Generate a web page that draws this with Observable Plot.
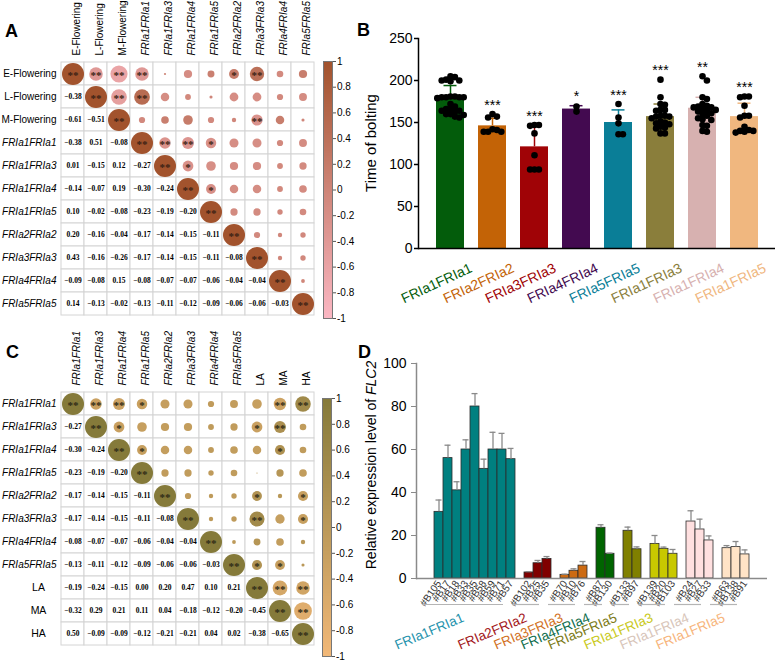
<!DOCTYPE html>
<html><head><meta charset="utf-8">
<script src="https://cdn.jsdelivr.net/npm/d3@7"></script>
<script src="https://cdn.jsdelivr.net/npm/@observablehq/plot@0.6"></script>
<style>
body{margin:0;background:#fff;}
#root{position:relative;width:776px;height:665px;overflow:hidden;background:#fff;font-family:"Liberation Sans",Arial,sans-serif;}
#root svg{position:absolute;overflow:visible;}
</style></head><body><div id="root"></div><script>
const FONT = '"Liberation Sans", Arial, sans-serif';
const SERIF = '"Liberation Serif", "Times New Roman", serif';

// ---------- Panel A data ----------
const aVars = ["E-Flowering","L-Flowering","M-Flowering","FRIa1FRIa1","FRIa1FRIa3","FRIa1FRIa4","FRIa1FRIa5","FRIa2FRIa2","FRIa3FRIa3","FRIa4FRIa4","FRIa5FRIa5"];
const aLower = [
 [],
 [-0.38],
 [-0.61, -0.51],
 [-0.38, 0.51, -0.08],
 [0.01, -0.15, 0.12, -0.27],
 [-0.14, -0.07, 0.19, -0.30, -0.24],
 [0.10, -0.02, -0.08, -0.23, -0.19, -0.20],
 [0.20, -0.16, -0.04, -0.17, -0.14, -0.15, -0.11],
 [0.43, -0.16, -0.26, -0.17, -0.14, -0.15, -0.11, -0.08],
 [-0.09, -0.08, 0.15, -0.08, -0.07, -0.07, -0.06, -0.04, -0.04],
 [0.14, -0.13, -0.02, -0.13, -0.11, -0.12, -0.09, -0.06, -0.06, -0.03]
];
const aSig = [
 ["**","**","**","","","","*","**","",""],
 ["**","**","","","","","","",""],
 ["","","","","","**","",""],
 ["**","**","*","","","",""],
 ["*","","","","",""],
 ["*","","","",""],
 ["","","",""],
 ["","",""],
 ["",""],
 [""],
 []
];
const aRange = ["#fbb7c3", "#a2532d"];

// ---------- Panel C data ----------
const cVars = ["FRIa1FRIa1","FRIa1FRIa3","FRIa1FRIa4","FRIa1FRIa5","FRIa2FRIa2","FRIa3FRIa3","FRIa4FRIa4","FRIa5FRIa5","LA","MA","HA"];
const cLower = [
 [],
 [-0.27],
 [-0.30, -0.24],
 [-0.23, -0.19, -0.20],
 [-0.17, -0.14, -0.15, -0.11],
 [-0.17, -0.14, -0.15, -0.11, -0.08],
 [-0.08, -0.07, -0.07, -0.06, -0.04, -0.04],
 [-0.13, -0.11, -0.12, -0.09, -0.06, -0.06, -0.03],
 [-0.19, -0.24, -0.15, 0.003, 0.20, 0.47, 0.10, 0.21],
 [-0.32, 0.29, 0.21, 0.11, 0.04, -0.18, -0.12, -0.20, -0.45],
 [0.50, -0.09, -0.09, -0.12, -0.21, -0.21, 0.04, 0.02, -0.38, -0.65]
];
const cSig = [
 ["**","**","*","","","","","","**","**"],
 ["*","","","","","","*","**",""],
 ["*","","","","","","*",""],
 ["","","","","","",""],
 ["","","","*","","*"],
 ["","","**","","*"],
 ["","","",""],
 ["*","*",""],
 ["**","**"],
 ["**"],
 []
];
const cRange = ["#f2b878", "#857a3a"];
const cbTicks = [1, 0.8, 0.6, 0.4, 0.2, 0, -0.2, -0.4, -0.6, -0.8, -1];

// ---------- Panel B data ----------
const bGenotypes = ["FRIa1FRIa1","FRIa2FRIa2","FRIa3FRIa3","FRIa4FRIa4","FRIa5FRIa5","FRIa1FRIa3","FRIa1FRIa4","FRIa1FRIa5"];
const bColors = ["#035c0b", "#c36306", "#a00306", "#430a50", "#0a7e97", "#8a7e3b", "#d7b1b0", "#f0b77f"];
const bMeans = [180, 146, 121, 166, 150, 157, 167, 157];
const bErrTops = [194, 155, 147, 170, 165, 172, 180, 173];
const bStars = ["", "***", "***", "*", "***", "***", "**", "***"];
const bPoints = [
 [205, 204, 201, 200, 200, 199, 181, 181, 180, 180, 180, 180, 179, 172, 169, 166, 166, 164, 164, 163, 160, 160, 159, 157, 156],
 [160, 157, 156, 142, 141, 139, 139, 139],
 [147, 147, 146, 137, 111, 94, 94, 94],
 [169, 163],
 [172, 156, 149, 136, 136],
 [201, 180, 172, 171, 165, 165, 164, 158, 158, 157, 157, 155, 151, 150, 149, 148, 145, 144, 143, 137, 137],
 [205, 200, 180, 178, 172, 170, 169, 168, 168, 166, 165, 164, 163, 161, 160, 158, 155, 154, 153, 147, 146, 140, 139],
 [181, 181, 180, 170, 158, 158, 156, 145, 141, 140, 140, 139, 138]
];
const bYTicks = [0, 50, 100, 150, 200, 250];

// ---------- Panel D data ----------
const dGroupNames = ["FRIa1FRIa1","FRIa2FRIa2","FRIa3FRIa3","FRIa4FRIa4","FRIa5FRIa5","FRIa1FRIa3","FRIa1FRIa4","FRIa1FRIa5"];
const dBarFill = ["#008080", "#800000", "#cc6a12", "#006400", "#808000", "#c8c800", "#ffe0e0", "#ffe3c6"];
const dLabelColor = ["#1f93ad", "#a3171b", "#d2721f", "#0f6e4c", "#7c7a16", "#c9c921", "#d8c5b9", "#f7b57c"];
const dLines = [
 ["#B105","#B17","#B18","#B33","#B35","#B58","#B59","#B71","#B57"],
 ["#B102","#B25","#B35"],
 ["#B70","#B10","#B76"],
 ["#B87","#B130"],
 ["#B133","#B97"],
 ["#B139","#B20","#B103"],
 ["#B24","#B27","#B33"],
 ["#B63","#B138","#B91"]
];
const dValues = [
 [31, 56, 41, 60, 80, 51, 60, 60, 55.5],
 [2.8, 7.1, 9.1],
 [1.7, 3.6, 6.0],
 [23.6, 11.5],
 [22.2, 13.6],
 [16.1, 13.8, 11.5],
 [26.5, 22.8, 17.7],
 [14.1, 14.6, 11.2]
];
const dErrTops = [
 [36.5, 62, 45, 64.5, 86, 55.5, 68, 67.5, 60.5],
 [3.2, 8.4, 10.2],
 [2.0, 4.5, 7.9],
 [25, 11.8],
 [23.9, 14.7],
 [20, 14.6, 13.5],
 [31.5, 27.6, 19.8],
 [15.3, 17.2, 13.3]
];
const dYTicks = [0, 20, 40, 60, 80, 100];

// ---------- helpers ----------
const root = document.getElementById("root");
function place(svg, left, top) {
  svg.style.position = "absolute";
  svg.style.left = left + "px";
  svg.style.top = top + "px";
  svg.style.maxWidth = "none";
  root.appendChild(svg);
}
const fmtR = v => (v < 0 ? "\u2212" : "") + Math.abs(v).toFixed(2);

function corrPlot(vars, lower, sig, range, starColor, centeredRows) {
  const cells = [];
  vars.forEach((rv, i) => vars.forEach((cv, j) => {
    if (i === j) cells.push({row: rv, col: cv, v: 1, kind: "dot", star: "**"});
    else if (j < i) cells.push({row: rv, col: cv, v: lower[i][j], kind: "num"});
    else cells.push({row: rv, col: cv, v: lower[j][i], kind: "dot", star: sig[i][j - i - 1]});
  }));
  const isItalic = v => v.startsWith("FRIa");
  return Plot.plot({
    width: 320, height: 330, marginLeft: 59, marginRight: 5, marginTop: 60, marginBottom: 14,
    x: {domain: vars, axis: null, padding: 0},
    y: {domain: vars, axis: null, padding: 0},
    r: {type: "sqrt", domain: [0, 1], range: [0, 11]},
    color: {type: "linear", domain: [-1, 1], range},
    style: {fontFamily: FONT, color: "black", background: "transparent"},
    marks: [
      Plot.cell(cells, {x: "col", y: "row", fill: "white", stroke: "#d4d4d4", strokeWidth: 1, inset: 0}),
      Plot.dot(cells.filter(d => d.kind === "dot"), {x: "col", y: "row", r: d => Math.abs(d.v), fill: "v"}),
      Plot.text(cells.filter(d => d.star), {x: "col", y: "row", text: "star", fill: starColor, fontFamily: SERIF, fontWeight: "bold", fontSize: 11, dy: 1.5}),
      Plot.text(cells.filter(d => d.kind === "num"), {x: "col", y: "row", text: d => fmtR(d.v), fill: "black", fontFamily: SERIF, fontWeight: "bold", fontSize: 7.5}),
      Plot.text(vars.filter(isItalic), {y: d => d, frameAnchor: "left", dx: -3, textAnchor: "end", fontStyle: "italic", fontSize: 10}),
      Plot.text(vars.filter(v => !isItalic(v) && !centeredRows), {y: d => d, frameAnchor: "left", dx: -3, textAnchor: "end", fontSize: 10}),
      Plot.text(vars.filter(v => !isItalic(v) && centeredRows), {y: d => d, frameAnchor: "left", dx: -21, textAnchor: "middle", fontSize: 10.5}),
      Plot.text(vars.filter(isItalic), {x: d => d, frameAnchor: "top", dy: -5, rotate: -90, textAnchor: "start", fontStyle: "italic", fontSize: 10}),
      Plot.text(vars.filter(v => !isItalic(v)), {x: d => d, frameAnchor: "top", dy: -5, rotate: -90, textAnchor: "start", fontSize: 10})
    ]
  });
}

function colorBar(range, height, mTop, mBottom) {
  return Plot.plot({
    width: 40, height, marginLeft: 1, marginRight: 30, marginTop: mTop, marginBottom: mBottom,
    x: {domain: [0, 1], axis: null},
    y: {domain: [-1, 1], axis: null},
    color: {type: "linear", domain: [-1, 1], range},
    style: {fontFamily: FONT, color: "black", background: "transparent"},
    marks: [
      Plot.raster({x1: 0, x2: 1, y1: -1, y2: 1, fill: (x, y) => y, width: 2, height: 200, imageRendering: "auto"}),
      Plot.frame({stroke: "#777", strokeWidth: 1}),
      Plot.axisY({anchor: "right", ticks: cbTicks, tickFormat: d => String(d), tickSize: 3, tickPadding: 1.5, fontSize: 10, stroke: "#555", label: null})
    ]
  });
}

// ---------- Panel A ----------
place(corrPlot(aVars, aLower, aSig, aRange, "#3a1f14", false), 0, 0);
place(colorBar(aRange, 320, 61, 2), 322, 0);

// ---------- Panel C ----------
place(corrPlot(cVars, cLower, cSig, cRange, "#2e2a16", true), 0, 330);
place(colorBar(cRange, 330, 68, 4), 321, 330);

// ---------- Panel B ----------
const B_H = 210, B_YMAX = 250, B_BW = 14;   // frame height, y max, half bar width in x units
// deterministic beeswarm (like Plot's dodge) in pixel-like units within each bar
function swarm(vals) {
  const k = B_H / B_YMAX, step = 4.4, minD = 4.4, placed = [];
  return vals.map(v => {
    const py = v * k;
    let off = 0;
    for (let n = 0; n < 40; n++) {
      const o = n === 0 ? 0 : (n % 2 ? 1 : -1) * Math.ceil(n / 2) * step;
      if (placed.every(p => Math.hypot(p.x - o, p.y - py) >= minD)) { off = o; break; }
    }
    placed.push({x: off, y: py});
    return off;
  });
}
const bRows = bGenotypes.map((g, i) => ({
  g, color: bColors[i], mean: bMeans[i], err: bErrTops[i], star: bStars[i],
  top: Math.max(bErrTops[i], d3.max(bPoints[i]))
}));
const bDots = bGenotypes.flatMap((g, i) => {
  const offs = swarm(bPoints[i]);
  return bPoints[i].map((v, j) => ({g, v, o: offs[j]}));
});
const bPlot = Plot.plot({
  width: 359, height: 320, marginLeft: 1, marginRight: 1, marginTop: 38, marginBottom: 72,
  fx: {domain: bGenotypes, paddingInner: 0.34, paddingOuter: 0.35, axis: null, label: null},
  x: {domain: [-B_BW, B_BW], axis: null},
  y: {domain: [0, B_YMAX], axis: null},
  style: {fontFamily: FONT, color: "black", background: "transparent"},
  marks: [
    Plot.rectY(bRows, {fx: "g", x1: -B_BW, x2: B_BW, y: "mean", fill: "color"}),
    Plot.ruleX(bRows, {fx: "g", x: 0, y1: "mean", y2: "err", stroke: "color", strokeWidth: 1.5}),
    Plot.ruleY(bRows, {fx: "g", x1: -6.5, x2: 6.5, y: "err", stroke: "color", strokeWidth: 1.5}),
    Plot.dot(bDots, {fx: "g", x: "o", y: "v", r: 3.3, fill: "black"}),
    Plot.text(bRows.filter(d => d.star), {fx: "g", x: 0, y: "top", text: "star", dy: -9, fontSize: 14}),
    Plot.text(bRows, {fx: "g", x: 0, frameAnchor: "bottom", text: "g", fill: "color", rotate: -25, dx: -12, dy: 39, fontSize: 14})
  ]
});
place(bPlot, 417, 0);
// axes of panel B (same frame, unfaceted)
const bAxes = Plot.plot({
  width: 421, height: 320, marginLeft: 63, marginRight: 1, marginTop: 38, marginBottom: 72,
  y: {domain: [0, B_YMAX], axis: null},
  style: {fontFamily: FONT, color: "black", background: "transparent"},
  marks: [
    Plot.ruleY([0], {stroke: "black", strokeWidth: 1.5}),
    Plot.frame({anchor: "left", stroke: "black", strokeWidth: 1.5}),
    Plot.axisY({ticks: bYTicks, tickSize: 4, tickPadding: 2, fontSize: 14, strokeWidth: 1.5, label: null})
  ]
});
place(bAxes, 355, 0);

// ---------- Panel D ----------
const dKeys = [], dTickKeys = [], dRows = [], dGroupRows = [];
dGroupNames.forEach((g, gi) => {
  if (gi > 0) dKeys.push("gap" + gi);
  const keys = dLines[gi].map(l => gi + "|" + l);
  keys.forEach((k, i) => {
    dKeys.push(k); dTickKeys.push(k);
    dRows.push({key: k, v: dValues[gi][i], err: dErrTops[gi][i], fill: dBarFill[gi]});
  });
  dGroupRows.push({name: g, first: keys[0], last: keys[keys.length - 1], mid: keys[Math.floor((keys.length - 1) / 2)], color: dLabelColor[gi]});
});
const dPlot = Plot.plot({
  width: 421, height: 330, marginLeft: 61, marginRight: 9, marginTop: 28, marginBottom: 87,
  x: {domain: dKeys, paddingInner: 0, paddingOuter: 1.9, axis: null},
  y: {domain: [0, 100], axis: null},
  style: {fontFamily: FONT, color: "black", background: "transparent"},
  marks: [
    Plot.barY(dRows, {x: "key", y: "v", fill: "fill", stroke: "#2b2b2b", strokeWidth: 0.8}),
    Plot.ruleX(dRows, {x: "key", y1: "v", y2: "err", stroke: "#8a8a8a", strokeWidth: 1.3}),
    Plot.tickY(dRows, {x: "key", y: "err", stroke: "#8a8a8a", strokeWidth: 1.3, insetLeft: 1.5, insetRight: 1.5}),
    Plot.ruleY([0], {stroke: "#8a8a8a", strokeWidth: 1.5}),
    Plot.frame({anchor: "left", stroke: "#8a8a8a", strokeWidth: 1.5}),
    Plot.axisY({ticks: dYTicks, tickSize: 5, tickPadding: 5, fontSize: 14, stroke: "#8a8a8a", fill: "black", label: null}),
    Plot.axisX({ticks: dTickKeys, tickFormat: k => k.split("|")[1], tickRotate: -55, tickSize: 0, tickPadding: 3, fontSize: 10, fill: "#333", label: null}),
    Plot.ruleY(dGroupRows, {y: () => 0, x1: "first", x2: "last", dy: 26, dx: -12, stroke: "#b5b5b5", strokeWidth: 1.2}),
    Plot.text(dGroupRows, {x: "mid", frameAnchor: "bottom", text: "name", fill: "color", rotate: -23, dx: -44, dy: 57, fontSize: 13.5})
  ]
});
place(dPlot, 355, 335);

// ---------- overlay labels ----------
const ov = d3.create("svg").attr("width", 776).attr("height", 665)
  .style("position", "absolute").style("left", "0px").style("top", "0px").style("pointer-events", "none")
  .style("font-family", FONT);
[["A", 5, 37], ["B", 357, 36], ["C", 6, 358], ["D", 358, 358]].forEach(([t, x, y]) =>
  ov.append("text").attr("x", x).attr("y", y).attr("font-size", 18).attr("font-weight", "bold").text(t));
ov.append("text").attr("transform", "translate(376,143) rotate(-90)").attr("text-anchor", "middle")
  .attr("font-size", 15).text("Time of bolting");
const dl = ov.append("text").attr("transform", "translate(376,465) rotate(-90)").attr("text-anchor", "middle").attr("font-size", 14);
dl.append("tspan").text("Relative expression level of ");
dl.append("tspan").attr("font-style", "italic").text("FLC2");
root.appendChild(ov.node());
</script></body></html>
